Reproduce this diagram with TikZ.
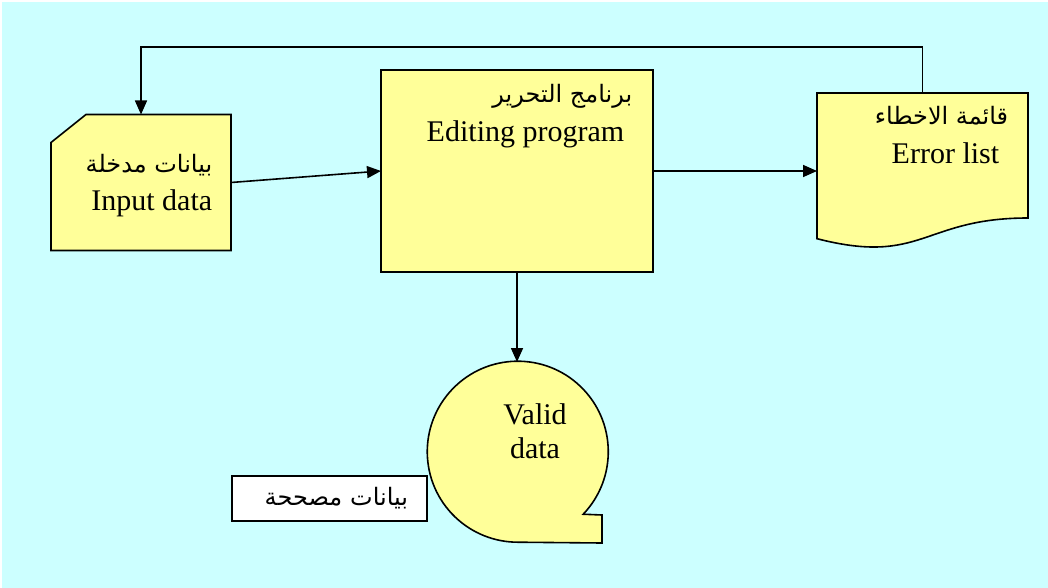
\documentclass[tikz,border=0pt]{standalone}
\usepackage{fontspec}
\setmainfont{Liberation Serif}
\newfontfamily\arabicfont[Script=Arabic]{DejaVu Sans}
\TeXXeTstate=1
\usetikzlibrary{arrows.meta}

\definecolor{boxyellow}{HTML}{FFFF99}
\definecolor{backcyan}{HTML}{CCFFFF}

\tikzset{%
          shape frame/.style={
            rectangle,
            draw=none,
            inner sep=0pt,
            outer sep=0pt
          },
          shape outline/.style={
            draw=black,
            fill=boxyellow,
            line width=1.6pt
          },
          latin line/.style={
            anchor=base east,
            inner sep=0pt,
            font=\fontsize{30}{36}\selectfont
          },
          arabic line/.style={
            anchor=base east,
            inner sep=0pt,
            font=\arabicfont\fontsize{24}{28}\selectfont
          },
          label box/.style={
            draw=black,
            fill=white,
            line width=1.6pt,
            text width=157pt,
            align=right,
            inner xsep=19pt,
            minimum height=45pt,
            font=\arabicfont\fontsize{24}{28}\selectfont
          },
        }

\begin{document}
\begin{tikzpicture}[x=1pt, y=-1pt, >={Triangle[length=14pt,width=12pt]}, line width=1.6pt]
        \useasboundingbox (0,0) rectangle (1048,588);
        \fill [backcyan] (2,2) rectangle (1048,588);

        % input data: card with a cut corner
        \node [shape frame, minimum width=180pt, minimum height=136pt] (inputdata) at (141,182.5) {};
        \draw [shape outline] ([yshift=-28pt]inputdata.north west) -- ([xshift=35pt]inputdata.north west)
              -- (inputdata.north east) -- (inputdata.south east) -- (inputdata.south west) -- cycle;
        \node [arabic line] (inputdata-ar) at (213,172) {\beginR بيانات مدخلة\endR};
        \node [latin line] (inputdata-en) at (213,210) {Input data};

        % editing program: plain process box
        \node [shape frame, shape outline, minimum width=272pt, minimum height=202pt] (editor) at (517,171) {};
        \node [arabic line] (editor-ar) at (633,103) {\beginR برنامج التحرير\endR};
        \node [latin line] (editor-en) at (625,142) {Editing program};

        % error list: document with wavy bottom
        \node [shape frame, minimum width=211pt, minimum height=156pt] (errorlist) at (922.5,171) {};
        \draw [shape outline] (errorlist.north west) -- (errorlist.north east) -- ([yshift=31pt]errorlist.south east)
              .. controls ([yshift=31pt]errorlist.south) and ([yshift=-16.8pt]errorlist.south) .. ([yshift=10.3pt]errorlist.south west)
              -- cycle;
        \node [arabic line] (errorlist-ar) at (1009,125) {\beginR قائمة الاخطاء\endR};
        \node [latin line] (errorlist-en) at (1000,164) {Error list};

        % valid data: tape reel
        \node [shape frame, circle, minimum size=181pt] (validdata) at (517,452.5) {};
        \draw [shape outline] (validdata.-43.7) arc [start angle=-43.7, end angle=270, radius=90.5pt]
              -- (602,543) -- (602,515) -- cycle;
        \node [latin line, anchor=base] (validdata-1) at (535,424) {Valid};
        \node [latin line, anchor=base] (validdata-2) at (535,458) {data};

        \node [label box] (validlabel) at (329.5,498.5) {\beginR بيانات مصححة\endR};

        \path [draw, ->] (inputdata.east) -- (editor.west);
        \path [draw, ->] (editor.east) -- (errorlist.west);
        \path [draw, ->] (editor.south) -- (validdata.north);

        \coordinate (loop-top) at (0,47);
        \path [draw, ->] (errorlist.north) -- (errorlist.north |- loop-top) -| (inputdata.north);

        \end{tikzpicture}
\end{document}
